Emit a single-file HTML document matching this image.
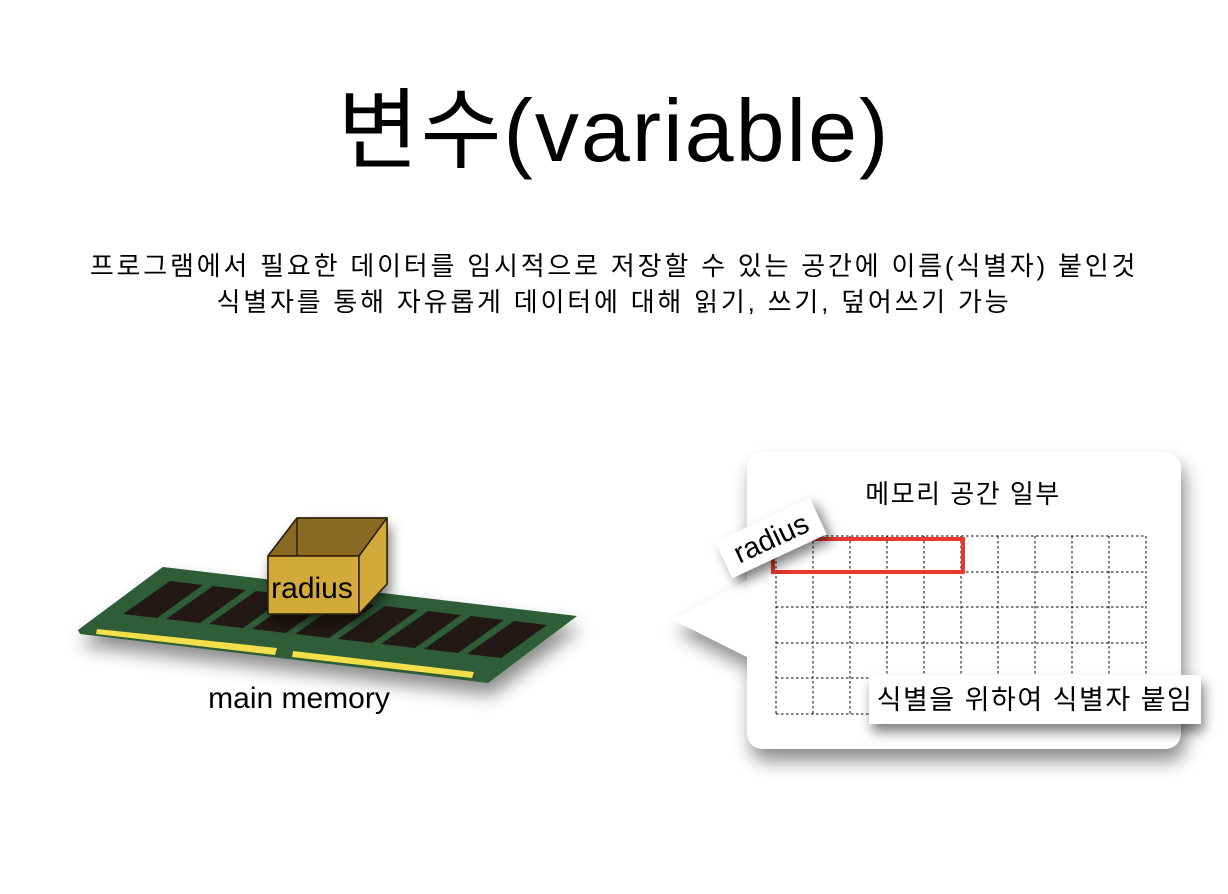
<!DOCTYPE html>
<html><head><meta charset="utf-8"><style>
body{margin:0;width:1228px;height:894px;background:#fff;overflow:hidden;position:relative;font-family:"Liberation Sans","Noto Sans CJK KR",sans-serif;}
.t{position:absolute;left:0;width:1228px;text-align:center;color:#000;}
</style></head><body>
<div class="t" style="top:60px;font-size:88px;letter-spacing:2px;">변수(variable)</div>
<div class="t" style="top:246px;font-size:26px;letter-spacing:2.8px;">프로그램에서 필요한 데이터를 임시적으로 저장할 수 있는 공간에 이름(식별자) 붙인것</div>
<div class="t" style="top:282px;font-size:26px;letter-spacing:2.8px;">식별자를 통해 자유롭게 데이터에 대해 읽기, 쓰기, 덮어쓰기 가능</div>
<svg width="1228" height="894" style="position:absolute;left:0;top:0" xmlns="http://www.w3.org/2000/svg">
<defs>
<filter id="sh" x="-20%" y="-20%" width="150%" height="160%"><feDropShadow dx="4" dy="12" stdDeviation="9" flood-color="#000" flood-opacity="0.45"/></filter>
<filter id="sh2" x="-20%" y="-30%" width="150%" height="180%"><feDropShadow dx="3" dy="8" stdDeviation="6" flood-color="#000" flood-opacity="0.5"/></filter>
</defs>
<g filter="url(#sh)">
<polygon points="78,630 160,569 163,567 577,616 488,683 80,634" fill="#2d5d38"/>
</g>
<g fill="#221916">
<polygon points="123,614 170,581 203,585 157,618"/>
<polygon points="166,619 213,586 246,590 200,623"/>
<polygon points="209,624 256,591 289,595 243,628"/>
<polygon points="252,629 299,596 332,600 286,633"/>
<polygon points="295,634 342,601 375,605 329,638"/>
<polygon points="338,639 385,606 418,610 372,643"/>
<polygon points="381,644 428,611 461,615 415,648"/>
<polygon points="424,649 471,616 504,620 458,653"/>
<polygon points="467,654 514,621 547,625 501,658"/>
</g>
<polygon points="97,629 277,648 275,655 96,634" fill="#f2df4a"/>
<polygon points="293,651 474,672 472,678 292,657" fill="#f2df4a"/>
<g stroke="#2a1f0a" stroke-width="1.5" stroke-linejoin="round" filter="url(#sh2)">
<polygon points="268,556 297,518 387,518 387,584 359,614 268,614" fill="#d4a93c"/>
</g>
<g stroke="#2a1f0a" stroke-width="1.5" stroke-linejoin="round">
<polygon points="268,556 297,518 387,518 359,556" fill="#8a6a22"/>
<polyline points="297,518 297,556" fill="none"/>
<polygon points="268,556 359,556 359,614 268,614" fill="#d4a93c"/>
<polygon points="359,556 387,518 387,584 359,614" fill="#d4a93c"/>
</g>
<text x="312" y="598" font-size="30" text-anchor="middle" font-family="Liberation Sans,sans-serif">radius</text>
<text x="299" y="708" font-size="30" text-anchor="middle" font-family="Liberation Sans,sans-serif">main memory</text>
<g filter="url(#sh)">
<path d="M765,452 H1163 Q1181,452 1181,470 V731 Q1181,749 1163,749 H765 Q747,749 747,731 V657 L673,620 L747,580 V470 Q747,452 765,452 Z" fill="#fff"/>
</g>
<text x="963" y="503" font-size="26" letter-spacing="1.5" text-anchor="middle" font-family="Liberation Sans,Noto Sans CJK KR,sans-serif">메모리 공간 일부</text>
<g stroke="#000" stroke-width="1" stroke-dasharray="2.5,2.5" fill="none">
<line x1="776" y1="536" x2="1146" y2="536"/><line x1="776" y1="572" x2="1146" y2="572"/><line x1="776" y1="607" x2="1146" y2="607"/><line x1="776" y1="643" x2="1146" y2="643"/><line x1="776" y1="678" x2="1146" y2="678"/><line x1="776" y1="714" x2="1146" y2="714"/>
<line x1="776" y1="536" x2="776" y2="714"/><line x1="813" y1="536" x2="813" y2="714"/><line x1="850" y1="536" x2="850" y2="714"/><line x1="887" y1="536" x2="887" y2="714"/><line x1="924" y1="536" x2="924" y2="714"/><line x1="961" y1="536" x2="961" y2="714"/><line x1="998" y1="536" x2="998" y2="714"/><line x1="1035" y1="536" x2="1035" y2="714"/><line x1="1072" y1="536" x2="1072" y2="714"/><line x1="1109" y1="536" x2="1109" y2="714"/><line x1="1146" y1="536" x2="1146" y2="714"/>
</g>
<rect x="773" y="539" width="190" height="33" fill="none" stroke="#e8392e" stroke-width="4"/>
<g transform="translate(771,538) rotate(-25)" filter="url(#sh2)">
<rect x="-52" y="-20" width="104" height="40" fill="#fff"/>
</g>
<text transform="translate(771,538) rotate(-25)" x="0" y="10" font-size="29" text-anchor="middle" font-family="Liberation Sans,sans-serif">radius</text>
<g filter="url(#sh2)"><rect x="869" y="675" width="332" height="49" fill="#fff"/></g>
<text x="1035" y="709" font-size="27" letter-spacing="1.5" text-anchor="middle" font-family="Liberation Sans,Noto Sans CJK KR,sans-serif">식별을 위하여 식별자 붙임</text>
</svg>
</body></html>
